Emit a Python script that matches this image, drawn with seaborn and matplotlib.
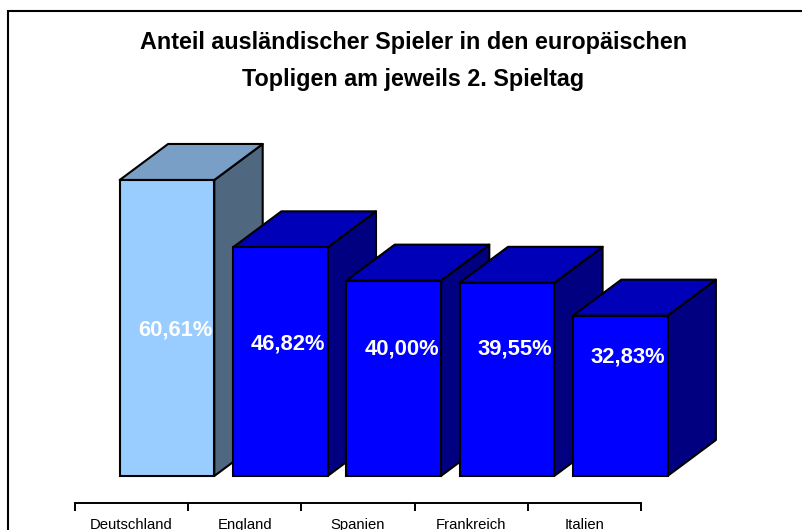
import matplotlib
matplotlib.use("Agg")
import matplotlib.pyplot as plt
from matplotlib.patches import Polygon, Rectangle
import pandas as pd
import seaborn as sns

countries = ["Deutschland", "England", "Spanien", "Frankreich", "Italien"]
shares = [60.61, 46.82, 40.00, 39.55, 32.83]
value_labels = ["60,61%", "46,82%", "40,00%", "39,55%", "32,83%"]
title_lines = "Anteil ausländischer Spieler in den europäischen\nTopligen am jeweils 2. Spieltag"

front_colors = ["#99CCFF", "#0000FF", "#0000FF", "#0000FF", "#0000FF"]
top_colors = ["#7A9FC6", "#0000B8", "#0000B8", "#0000B8", "#0000B8"]
side_colors = ["#4F6880", "#000080", "#000080", "#000080", "#000080"]

W, H = 802, 530
PX_PER_UNIT = 4.884
CAT_PX = 113.3
DEPTH_X = 48.4 / CAT_PX
DEPTH_Y = 36 / PX_PER_UNIT
LABEL_DY_PX = [-3.5, 11, 16, 16, 24.5]   # label centre, px below a common line

sns.set_theme(style="white")
plt.rcParams["font.family"] = ["Liberation Sans", "DejaVu Sans"]

fig = plt.figure(figsize=(W / 100, H / 100), dpi=100, facecolor="white")
fig.add_artist(Rectangle((8 / W, -0.1), 1.1, 1.1 - 11.5 / H, transform=fig.transFigure,
                         fill=False, edgecolor="black", linewidth=1.5))

ax = fig.add_axes([110.35 / W, 1 - 476 / H, 5 * CAT_PX / W, 476 / H])
ax.patch.set_alpha(0)
df = pd.DataFrame({"land": countries, "anteil": shares})
sns.barplot(data=df, x="land", y="anteil", hue="land", palette=front_colors,
            width=0.835, saturation=1, legend=False, edgecolor="black",
            linewidth=1.5, ax=ax, zorder=3)
ax.set_xlim(-0.5, 4.5)
ax.set_ylim(0, 476 / PX_PER_UNIT)
ax.axis("off")

bars = sorted(ax.patches, key=lambda p: p.get_x())
for i, bar in enumerate(bars):
    x0, x1 = bar.get_x(), bar.get_x() + bar.get_width()
    top = bar.get_height()
    z = 3 + i
    bar.set_zorder(z + 0.2)
    bar.set_clip_on(False)
    bar.set_joinstyle("miter")
    ax.add_patch(Polygon([(x1, 0), (x1 + DEPTH_X, DEPTH_Y), (x1 + DEPTH_X, top + DEPTH_Y), (x1, top)],
                         facecolor=side_colors[i], edgecolor="black", linewidth=1.5,
                         joinstyle="round", zorder=z, clip_on=False))
    ax.add_patch(Polygon([(x0, top), (x0 + DEPTH_X, top + DEPTH_Y), (x1 + DEPTH_X, top + DEPTH_Y), (x1, top)],
                         facecolor=top_colors[i], edgecolor="black", linewidth=1.5,
                         joinstyle="round", zorder=z + 0.1, clip_on=False))
    ax.annotate(value_labels[i], xy=((x0 + x1) / 2, 0), xycoords=("data", "axes fraction"),
                xytext=(8 * 0.72, (476 - 333 - LABEL_DY_PX[i]) * 0.72), textcoords="offset points",
                ha="center", va="center", color="white", fontweight="bold", fontsize=15.8,
                zorder=20)

fig.text(413.5 / W, 1 - 61 / H, title_lines, ha="center", va="center", fontsize=16.8,
         fontweight="bold", color="black", linespacing=1.8)

axis = fig.add_axes([75 / W, 1 - 503 / H, 566 / W, 0.5 / H])
axis.patch.set_alpha(0)
axis.set_xlim(-0.5, 4.5)
axis.set_ylim(0, 1)
for side in ("left", "right", "bottom"):
    axis.spines[side].set_visible(False)
axis.spines["top"].set_linewidth(1.4)
axis.spines["top"].set_color("black")
axis.set_yticks([])
axis.set_xticks([i - 0.5 for i in range(len(countries) + 1)])
axis.set_xticklabels([])
axis.set_xticks(range(len(countries)), countries, minor=True)
axis.tick_params(axis="x", which="major", bottom=True, length=5.5, width=1.4, color="black", direction="out")
axis.tick_params(axis="x", which="minor", bottom=False, length=0, pad=18.7, labelsize=10.75, labelcolor="black")
for lab in axis.get_xticklabels(minor=True):
    lab.set_verticalalignment("baseline")

fig.savefig("out.png", dpi=100)
